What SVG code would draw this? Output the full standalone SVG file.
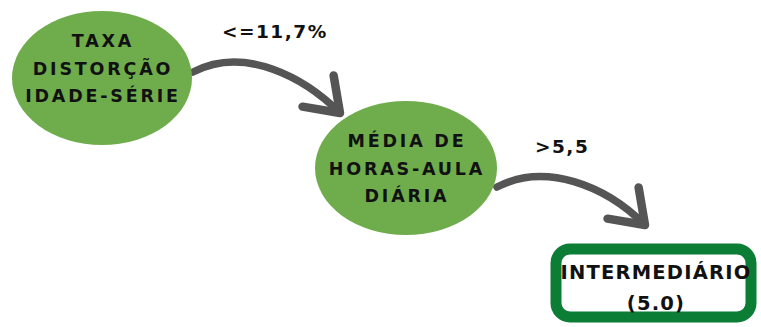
<svg xmlns="http://www.w3.org/2000/svg" width="761" height="327" viewBox="0 0 761 327">
<style>
.node{fill:#6fac4c}
.nt{font-family:"DejaVu Sans","Liberation Sans",sans-serif;font-weight:bold;font-size:17.5px;letter-spacing:2.8px;fill:#111;text-anchor:middle}
.lbl{font-family:"DejaVu Sans","Liberation Sans",sans-serif;font-weight:bold;font-size:18.5px;letter-spacing:1.5px;fill:#111}
.conn{fill:none;stroke:#555;stroke-width:7.5;stroke-linecap:round}
.box{fill:#fff;stroke:#0b7d35;stroke-width:11}
.bt{font-family:"DejaVu Sans","Liberation Sans",sans-serif;font-weight:bold;font-size:19.5px;letter-spacing:1.2px;fill:#111;text-anchor:middle}
</style>
<defs>
<marker id="arr" markerUnits="userSpaceOnUse" markerWidth="60" markerHeight="60" viewBox="-40 -30 50 60" refX="0" refY="0" orient="auto" overflow="visible">
<path d="M-31,-22 L0,0 L-31,22" fill="none" stroke="#555" stroke-width="8.5" stroke-linecap="round" stroke-linejoin="round"/>
</marker>
</defs>
<g id="connectors">
<path class="conn" d="M193,72 C245,45 305,78 340,113" marker-end="url(#arr)"/>
<path class="conn" d="M497,187 C545,162 605,185 645,225" marker-end="url(#arr)"/>
<text class="lbl" x="222" y="38">&lt;=11,7%</text>
<text class="lbl" x="535" y="153">&gt;5,5</text>
</g>
<g id="node-taxa">
<ellipse class="node" cx="102" cy="78" rx="90" ry="67"/>
<text class="nt" x="103" y="47">TAXA</text>
<text class="nt" x="103" y="75">DISTORÇÃO</text>
<text class="nt" x="103" y="102">IDADE-SÉRIE</text>
</g>
<g id="node-media">
<ellipse class="node" cx="406" cy="168" rx="91" ry="67"/>
<text class="nt" x="407" y="147">MÉDIA DE</text>
<text class="nt" x="407" y="175">HORAS-AULA</text>
<text class="nt" x="407" y="202">DIÁRIA</text>
</g>
<g id="node-intermediario">
<rect class="box" x="556" y="249" width="195" height="68" rx="14"/>
<text class="bt" x="656" y="279">INTERMEDIÁRIO</text>
<text class="bt" x="656" y="310">(5.0)</text>
</g>
</svg>
